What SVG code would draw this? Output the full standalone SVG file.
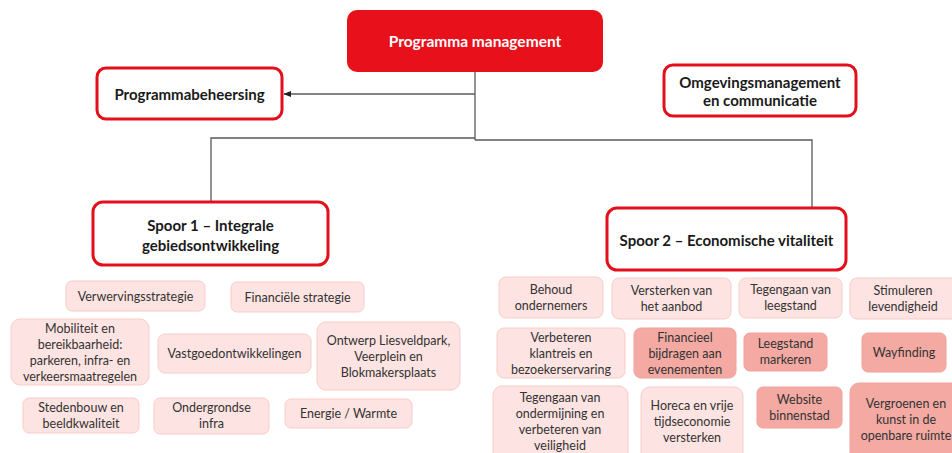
<svg xmlns="http://www.w3.org/2000/svg" width="952" height="453" viewBox="0 0 952 453">
<defs>
<style>
.bg{fill:#ffffff}
.main{fill:#e8101a}
.hdr{fill:#ffffff;stroke:#e3101b;stroke-width:3}
.lt{fill:#fde3e1;stroke:#f8cdc9;stroke-width:1}
.dk{fill:#f4aaa3;stroke:#f0a29b;stroke-width:1}
.tb{font-family:Lato,"Open Sans",sans-serif;font-weight:bold;font-size:15px;fill:#1a1a1a;text-anchor:middle}
.tw{font-family:Lato,"Open Sans",sans-serif;font-weight:bold;font-size:15.5px;fill:#ffffff;text-anchor:middle}
.ts{font-family:Lato,"Open Sans",sans-serif;font-size:12.5px;fill:#333333;text-anchor:middle}
.ln{fill:none;stroke:#5a5a5a;stroke-width:1.3}
</style>
<marker id="arr" viewBox="0 0 10 10" refX="9" refY="5" markerWidth="6" markerHeight="6" orient="auto-start-reverse">
<path d="M0,1 L10,5 L0,9 z" fill="#222"/>
</marker>
</defs>
<rect class="bg" x="0" y="0" width="952" height="453"/>

<g id="connectors">
<path class="ln" d="M475,72 V140"/>
<path class="ln" d="M475,94 H284" marker-end="url(#arr)"/>
<path class="ln" d="M475,138 H211 V202"/>
<path class="ln" d="M475,140 H812 V208"/>
</g>

<g id="programma-management">
<rect class="main" x="347" y="10" width="256" height="62" rx="10"/>
<text class="tw" x="475" y="46.5">Programma management</text>
</g>
<g id="programmabeheersing">
<rect class="hdr" x="97" y="68" width="185" height="51" rx="9"/>
<text class="tb" x="189.5" y="99.5">Programmabeheersing</text>
</g>
<g id="omgevingsmanagement">
<rect class="hdr" x="664" y="65" width="192" height="51" rx="9"/>
<text class="tb" x="760" y="87.5">Omgevingsmanagement</text>
<text class="tb" x="760" y="106">en communicatie</text>
</g>
<g id="spoor1">
<rect class="hdr" x="93" y="202" width="235" height="63" rx="10"/>
<text class="tb" x="210.5" y="230.5">Spoor 1 – Integrale</text>
<text class="tb" x="210.5" y="250.5">gebiedsontwikkeling</text>
</g>
<g id="spoor2">
<rect class="hdr" x="607" y="208" width="239" height="62" rx="10"/>
<text class="tb" x="726.5" y="245.5">Spoor 2 – Economische vitaliteit</text>
</g>

<g id="verwervingsstrategie">
<rect class="lt" x="66" y="281" width="139" height="30" rx="6"/>
<text class="ts" x="135.5" y="300.5">Verwervingsstrategie</text>
</g>
<g id="financiele-strategie">
<rect class="lt" x="231" y="282" width="133" height="30" rx="6"/>
<text class="ts" x="297.5" y="301.5">Financiële strategie</text>
</g>
<g id="mobiliteit">
<rect class="lt" x="11" y="319" width="138" height="66" rx="9"/>
<text class="ts" x="80" y="333">Mobiliteit en</text>
<text class="ts" x="80" y="349">bereikbaarheid:</text>
<text class="ts" x="80" y="365">parkeren, infra- en</text>
<text class="ts" x="80" y="381">verkeersmaatregelen</text>
</g>
<g id="vastgoed">
<rect class="lt" x="158" y="334" width="153" height="39" rx="7"/>
<text class="ts" x="234.5" y="358">Vastgoedontwikkelingen</text>
</g>
<g id="ontwerp">
<rect class="lt" x="317" y="322" width="143" height="68" rx="9"/>
<text class="ts" x="388.5" y="345">Ontwerp Liesveldpark,</text>
<text class="ts" x="388.5" y="361">Veerplein en</text>
<text class="ts" x="388.5" y="377">Blokmakersplaats</text>
</g>
<g id="stedenbouw">
<rect class="lt" x="23" y="398" width="116" height="35" rx="6"/>
<text class="ts" x="81" y="412">Stedenbouw en</text>
<text class="ts" x="81" y="428">beeldkwaliteit</text>
</g>
<g id="ondergrondse">
<rect class="lt" x="154" y="398" width="115" height="36" rx="6"/>
<text class="ts" x="211.5" y="412">Ondergrondse</text>
<text class="ts" x="211.5" y="428">infra</text>
</g>
<g id="energie">
<rect class="lt" x="285" y="399" width="127" height="29" rx="6"/>
<text class="ts" x="348.5" y="418">Energie / Warmte</text>
</g>

<g id="behoud">
<rect class="lt" x="499" y="277" width="104" height="41" rx="7"/>
<text class="ts" x="551" y="294">Behoud</text>
<text class="ts" x="551" y="310">ondernemers</text>
</g>
<g id="versterken-aanbod">
<rect class="lt" x="612" y="278" width="119" height="41" rx="7"/>
<text class="ts" x="671.5" y="294.5">Versterken van</text>
<text class="ts" x="671.5" y="310.5">het aanbod</text>
</g>
<g id="tegengaan-leegstand">
<rect class="lt" x="739" y="278" width="103" height="40" rx="7"/>
<text class="ts" x="790.5" y="294">Tegengaan van</text>
<text class="ts" x="790.5" y="310">leegstand</text>
</g>
<g id="stimuleren">
<rect class="lt" x="850" y="278" width="110" height="41" rx="7"/>
<text class="ts" x="903" y="294.5">Stimuleren</text>
<text class="ts" x="903" y="310.5">levendigheid</text>
</g>
<g id="verbeteren-klantreis">
<rect class="lt" x="497" y="328" width="128" height="50" rx="7"/>
<text class="ts" x="561" y="342">Verbeteren</text>
<text class="ts" x="561" y="358">klantreis en</text>
<text class="ts" x="561" y="374">bezoekerservaring</text>
</g>
<g id="financieel-bijdragen">
<rect class="dk" x="634" y="328" width="102" height="50" rx="7"/>
<text class="ts" x="685" y="342">Financieel</text>
<text class="ts" x="685" y="358">bijdragen aan</text>
<text class="ts" x="685" y="374">evenementen</text>
</g>
<g id="leegstand-markeren">
<rect class="dk" x="744" y="333" width="83" height="38" rx="6"/>
<text class="ts" x="785.5" y="348">Leegstand</text>
<text class="ts" x="785.5" y="364">markeren</text>
</g>
<g id="wayfinding">
<rect class="dk" x="862" y="333" width="84" height="39" rx="6"/>
<text class="ts" x="904" y="357">Wayfinding</text>
</g>
<g id="tegengaan-ondermijning">
<rect class="lt" x="493" y="386" width="135" height="80" rx="9"/>
<text class="ts" x="560" y="401.5">Tegengaan van</text>
<text class="ts" x="560" y="417.5">ondermijning en</text>
<text class="ts" x="560" y="433.5">verbeteren van</text>
<text class="ts" x="560" y="449.5">veiligheid</text>
</g>
<g id="horeca">
<rect class="lt" x="641" y="387" width="102" height="80" rx="9"/>
<text class="ts" x="692" y="410">Horeca en vrije</text>
<text class="ts" x="692" y="426">tijdseconomie</text>
<text class="ts" x="692" y="442">versterken</text>
</g>
<g id="website">
<rect class="dk" x="757" y="387" width="85" height="41" rx="6"/>
<text class="ts" x="799.5" y="403.5">Website</text>
<text class="ts" x="799.5" y="419.5">binnenstad</text>
</g>
<g id="vergroenen">
<rect class="dk" x="850" y="383" width="112" height="80" rx="9"/>
<text class="ts" x="906" y="408">Vergroenen en</text>
<text class="ts" x="906" y="424">kunst in de</text>
<text class="ts" x="906" y="440">openbare ruimte</text>
</g>
</svg>
